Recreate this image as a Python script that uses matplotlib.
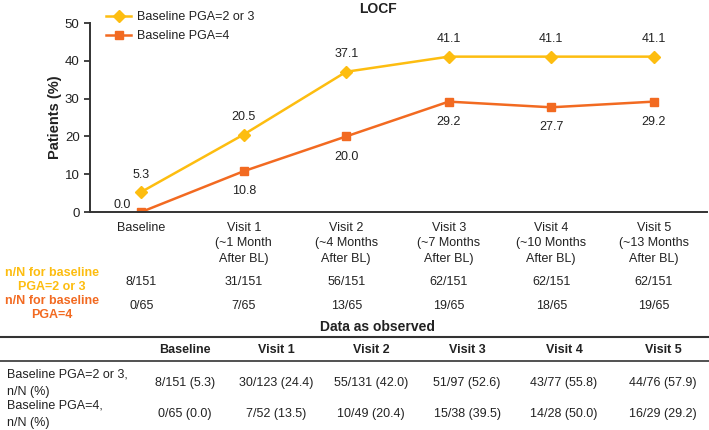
import matplotlib
matplotlib.use("Agg")
import matplotlib.pyplot as plt
from matplotlib.lines import Line2D
import matplotlib.transforms as mtransforms

plt.rcParams['font.family'] = ['Liberation Sans', 'DejaVu Sans']

# ---------------- data ----------------
categories = ["Baseline",
              "Visit 1\n(~1 Month\nAfter BL)",
              "Visit 2\n(~4 Months\nAfter BL)",
              "Visit 3\n(~7 Months\nAfter BL)",
              "Visit 4\n(~10 Months\nAfter BL)",
              "Visit 5\n(~13 Months\nAfter BL)"]
pga23 = [5.3, 20.5, 37.1, 41.1, 41.1, 41.1]
pga4 = [0.0, 10.8, 20.0, 29.2, 27.7, 29.2]
nN_pga23 = ["8/151", "31/151", "56/151", "62/151", "62/151", "62/151"]
nN_pga4 = ["0/65", "7/65", "13/65", "19/65", "18/65", "19/65"]

table_header = ["Baseline", "Visit 1", "Visit 2", "Visit 3", "Visit 4", "Visit 5"]
table_row_labels = ["Baseline PGA=2 or 3,\nn/N (%)", "Baseline PGA=4,\nn/N (%)"]
obs_pga23 = ["8/151 (5.3)", "30/123 (24.4)", "55/131 (42.0)", "51/97 (52.6)",
             "43/77 (55.8)", "44/76 (57.9)"]
obs_pga4 = ["0/65 (0.0)", "7/52 (13.5)", "10/49 (20.4)", "15/38 (39.5)",
            "14/28 (50.0)", "16/29 (29.2)"]

YELLOW = "#FDBD10"
ORANGE = "#F26A21"
DARK = "#222222"

W, H = 709, 430
fig = plt.figure(figsize=(W / 100, H / 100), dpi=100)

def fx(px):
    return px / W

def fy(py):
    return 1 - py / H

ax = fig.add_axes([fx(90), fy(212), fx(707) - fx(90), fy(23) - fy(212)])
x = list(range(len(categories)))
ax.plot(x, pga23, color=YELLOW, lw=1.8, marker="D", ms=6.5, label="Baseline PGA=2 or 3")
ax.plot(x, pga4, color=ORANGE, lw=1.8, marker="s", ms=6, label="Baseline PGA=4")

ax.set_xlim(-0.5, 5.52)
ax.set_ylim(0, 50)
ax.set_yticks([0, 10, 20, 30, 40, 50])
ax.set_xticks(x)
ax.set_xticklabels(categories, fontsize=9, color=DARK, linespacing=1.38)
ax.tick_params(axis="x", length=0, pad=7)
ax.tick_params(axis="y", labelsize=9.5, colors=DARK, length=4, width=1.2)
ax.spines["top"].set_visible(False)
ax.spines["right"].set_visible(False)
for s in ["left", "bottom"]:
    ax.spines[s].set_color("#333333")
    ax.spines[s].set_linewidth(1.4)
ax.set_ylabel("Patients (%)", fontsize=10.5, fontweight="bold", color=DARK, labelpad=2)

for i, v in enumerate(pga23):
    ax.annotate(f"{v:.1f}", (i, v), xytext=(0, 12.5), textcoords="offset points",
                ha="center", va="center", fontsize=9, color=DARK)
for i, v in enumerate(pga4):
    if i == 0:
        ax.annotate(f"{v:.1f}", (i, v), xytext=(-14, 5), textcoords="offset points",
                    ha="center", va="center", fontsize=9, color=DARK)
    else:
        ax.annotate(f"{v:.1f}", (i, v), xytext=(0, -14.5), textcoords="offset points",
                    ha="center", va="center", fontsize=9, color=DARK)

leg = ax.legend(loc="upper left", bbox_to_anchor=(fx(101), fy(6)), bbox_transform=fig.transFigure,
                frameon=False, fontsize=9, handlelength=2.0, handletextpad=0.45,
                labelspacing=0.55, borderaxespad=0)
for t in leg.get_texts():
    t.set_color(DARK)

fig.text(fx(378), fy(9), "LOCF", ha="center", va="center", fontsize=10, fontweight="bold", color=DARK)

# n/N rows
fig.text(fx(52), fy(280), "n/N for baseline\nPGA=2 or 3", ha="center", va="center",
         fontsize=9, fontweight="bold", color=YELLOW, linespacing=1.12)
fig.text(fx(52), fy(308), "n/N for baseline\nPGA=4", ha="center", va="center",
         fontsize=9, fontweight="bold", color=ORANGE, linespacing=1.12)
blend = mtransforms.blended_transform_factory(ax.transData, fig.transFigure)
for i in x:
    fig.text(i, fy(282), nN_pga23[i], transform=blend, ha="center", va="center", fontsize=9, color=DARK)
    fig.text(i, fy(306), nN_pga4[i], transform=blend, ha="center", va="center", fontsize=9, color=DARK)

# Data as observed table
fig.text(fx(378), fy(327), "Data as observed", ha="center", va="center",
         fontsize=10, fontweight="bold", color=DARK)
fig.add_artist(Line2D([0, 1], [fy(337), fy(337)], transform=fig.transFigure, color="#333333", lw=1.5))
fig.add_artist(Line2D([0, 1], [fy(361), fy(361)], transform=fig.transFigure, color="#333333", lw=1.2))
col_x = [185, 276, 371, 467, 564, 663]
for cx, h in zip(col_x, table_header):
    fig.text(fx(cx), fy(350), h, ha="center", va="center", fontsize=9, fontweight="bold", color=DARK)
row_y = [383, 414]
for ry, lab, vals in zip(row_y, table_row_labels, [obs_pga23, obs_pga4]):
    fig.text(fx(7), fy(ry), lab, ha="left", va="center", fontsize=9, color=DARK, linespacing=1.6)
    for cx, v in zip(col_x, vals):
        fig.text(fx(cx), fy(ry), v, ha="center", va="center", fontsize=9, color=DARK)

fig.savefig("out.png", dpi=100)
